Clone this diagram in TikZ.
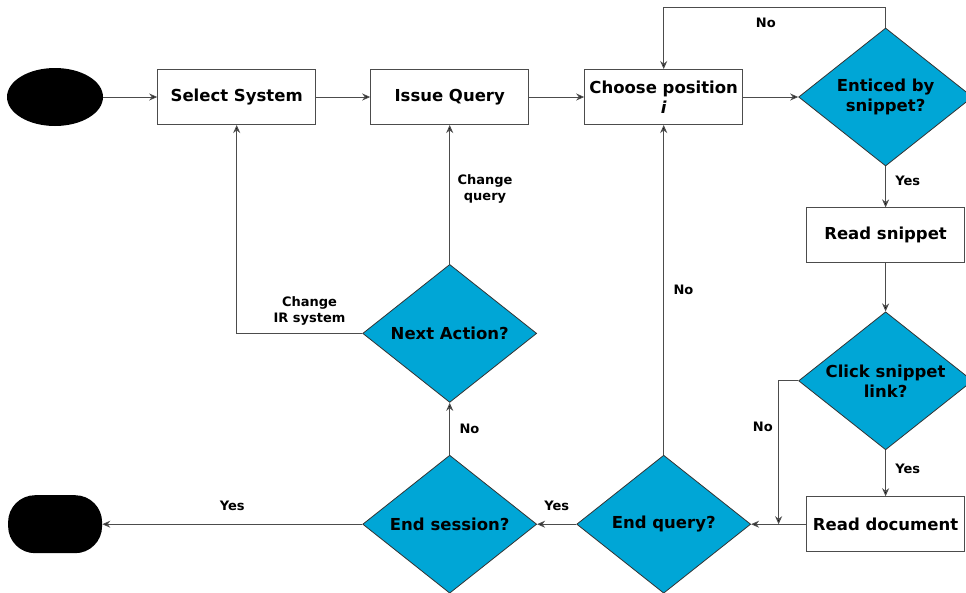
\documentclass[tikz,border=0pt]{standalone}
\usepackage{fontspec}
\setmainfont{DejaVu Sans}
\usepackage{tikz}
\usetikzlibrary{shapes.geometric, arrows.meta, positioning, calc}
\definecolor{decblue}{RGB}{0,166,214}
\tikzstyle{terminal} = [ellipse, minimum width=96pt, minimum height=58pt, fill=black]
\tikzstyle{stopper} = [rectangle, rounded corners=27pt, minimum width=94pt, minimum height=58pt, fill=black]
\tikzstyle{process} = [font=\fontsize{16.5}{20}\selectfont\bfseries, rectangle, minimum width=158pt, minimum height=55pt, align=center, draw=black!70, line width=1pt, fill=white]
\tikzstyle{decision} = [font=\fontsize{16.5}{20}\selectfont\bfseries, diamond, aspect=1.25, inner sep=0pt, minimum width=174pt, minimum height=138pt, align=center, draw=black!80, line width=0.8pt, fill=decblue]
\tikzstyle{lbl} = [font=\fontsize{13}{16}\selectfont\bfseries, align=center]
\tikzstyle{arrow} = [draw=black!70, line width=1pt, -{Stealth[length=8pt,width=7pt,fill=black]}]

\begin{document}
\begin{tikzpicture}
  \useasboundingbox (0,0) rectangle (966pt,-592pt);
  \node (start) [terminal] at (55pt,-97pt){};
  \node (sel) [process, right=54pt of start]{Select System};
  \node (query) [process, right=54pt of sel]{Issue Query};
  \node (choose) [process, right=55pt of query]{Choose position\\\textit{i}};
  \node (enticed) [decision, right=55pt of choose]{Enticed by\\snippet?};
  \node (readsnip) [process, below=41pt of enticed]{Read snippet};
  \node (click) [decision, below=48pt of readsnip]{Click snippet\\link?};
  \node (readdoc) [process, below=46pt of click]{Read document};
  \node (endq) [decision] at (choose |- readdoc){End query?};
  \node (endsess) [decision] at (query |- readdoc){End session?};
  \node (next) [decision, above=52pt of endsess]{Next Action?};
  \node (stop) [stopper, left=260pt of endsess]{};
  \coordinate (join) at ($(endq.east)!0.5!(readdoc.west)$);
  \draw[arrow](start) -- (sel);
  \draw[arrow](sel) -- (query);
  \draw[arrow](query) -- (choose);
  \draw[arrow](choose) -- (enticed);
  \draw[arrow](enticed.north) -- ++(0,20pt) -| node[lbl, pos=0.27, below=7pt]{No} (choose.north);
  \draw[arrow](enticed) -- node[lbl, pos=0.35, right=6pt]{Yes} (readsnip);
  \draw[arrow](readsnip) -- (click);
  \draw[arrow](click) -- node[lbl, pos=0.4, right=6pt]{Yes} (readdoc);
  \draw[arrow](click.west) -| node[lbl, pos=0.66, left=2pt]{No} (join);
  \draw[arrow](readdoc) -- (endq);
  \draw[arrow](endq) -- node[lbl, right=6pt]{No} (choose);
  \draw[arrow](endq) -- node[lbl, above=10pt]{Yes} (endsess);
  \draw[arrow](endsess) -- node[lbl, right=6pt]{No} (next);
  \draw[arrow](endsess) -- node[lbl, above=10pt]{Yes} (stop);
  \draw[arrow](next) -- node[lbl, pos=0.54, right=4pt]{Change\\query} (query);
  \draw[arrow](next.west) -| node[lbl, pos=0.21, above=4pt]{Change\\IR system} (sel.south);
\end{tikzpicture}
\end{document}
